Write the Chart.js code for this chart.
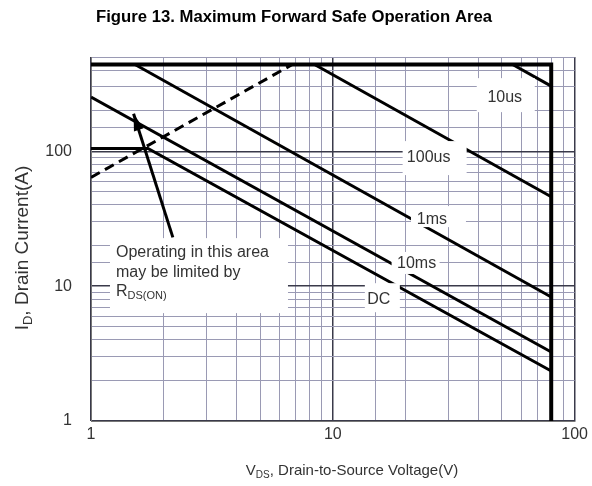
<!DOCTYPE html>
<html>
<head>
<meta charset="utf-8">
<script src="https://cdn.jsdelivr.net/npm/chart.js@4"></script>
<style>
  body { margin: 0; background: #fff; }
</style>
</head>
<body>
<canvas id="soa" width="592" height="486"></canvas>
<script>
// SOA boundaries, V_DS (V) against I_D (A)
const limitV = [1, 80, 80]
const limitI = [440, 440, 1]
const rdsV = [1, 6.8]
const rdsI = [64, 440]
const us10V = [55.4, 80]
const us10I = [440, 304]
const us100V = [8.4, 80]
const us100I = [440, 46]
const ms1V = [1.52, 80]
const ms1I = [440, 8.3]
const ms10V = [1, 80]
const ms10I = [252, 3.25]
const dcV = [1, 1.72, 80]
const dcI = [105, 105, 2.35]
const arrowV = [2.18, 1.5]
const arrowI = [23, 190]
const xLabels = [1, 10, 100]
const yLabels = [1, 10, 100]

const pts = (xs, ys) => xs.map((x, i) => ({ x, y: ys[i] }))

const line = (data, width, extra) => Object.assign({
  data,
  showLine: true,
  borderColor: '#000',
  borderWidth: width,
  pointRadius: 0,
  fill: false
}, extra || {})

const isDecade = v => Math.abs(Math.log10(v) - Math.round(Math.log10(v))) < 1e-6

// white-backed curve labels, text centre given in data units
const curveLabels = [
  { text: '10us', v: 51.4, i: 252, box: [-28, -19, 30, 15] },
  { text: '100us', v: 24.9, i: 89, box: [-26, -17, 38, 17] },
  { text: '1ms', v: 25.7, i: 31.4, box: [-21, -13, 34, 8] },
  { text: '10ms', v: 22.2, i: 14.6, box: [-25, -12, 23, 10] },
  { text: 'DC', v: 15.5, i: 8.0, box: [-14, -16, 21, 13] }
]

function subText(ctx, parts, x, y, size, align) {
  // parts: [text, isSub]
  const widths = parts.map(p => {
    ctx.font = (p[1] ? Math.round(size * 0.68) : size) + 'px "Liberation Sans", Arial, sans-serif'
    return ctx.measureText(p[0]).width
  })
  const total = widths.reduce((a, b) => a + b, 0)
  let cx = align === 'center' ? x - total / 2 : x
  ctx.textAlign = 'left'
  ctx.textBaseline = 'middle'
  parts.forEach((p, k) => {
    ctx.font = (p[1] ? Math.round(size * 0.68) : size) + 'px "Liberation Sans", Arial, sans-serif'
    ctx.fillText(p[0], cx, p[1] ? y + size * 0.3 : y)
    cx += widths[k]
  })
}

const decor = {
  id: 'decor',
  afterDatasetsDraw(chart) {
    const { ctx, scales: { x, y } } = chart
    ctx.save()

    // arrow head on the R_DS(on) pointer
    const arrow = chart.getDatasetMeta(7).data
    const tail = arrow[0], tip = arrow[1]
    const ang = Math.atan2(tip.y - tail.y, tip.x - tail.x)
    ctx.fillStyle = '#000'
    ctx.beginPath()
    ctx.moveTo(tip.x, tip.y)
    ctx.lineTo(tip.x - 17 * Math.cos(ang) + 5 * Math.sin(ang), tip.y - 17 * Math.sin(ang) - 5 * Math.cos(ang))
    ctx.lineTo(tip.x - 17 * Math.cos(ang) - 5 * Math.sin(ang), tip.y - 17 * Math.sin(ang) + 5 * Math.cos(ang))
    ctx.closePath()
    ctx.fill()

    ctx.font = '16px "Liberation Sans", Arial, sans-serif'
    curveLabels.forEach(l => {
      const px = x.getPixelForValue(l.v)
      const py = y.getPixelForValue(l.i)
      ctx.fillStyle = '#fff'
      ctx.fillRect(px + l.box[0], py + l.box[1], l.box[2] - l.box[0], l.box[3] - l.box[1])
      ctx.fillStyle = '#333'
      ctx.textAlign = 'center'
      ctx.textBaseline = 'middle'
      ctx.fillText(l.text, px, py)
    })

    // note box
    const bx = x.getPixelForValue(1.198)
    const by = y.getPixelForValue(22.7)
    ctx.fillStyle = '#fff'
    ctx.fillRect(bx, by, 178, 75)
    ctx.fillStyle = '#333'
    ctx.textAlign = 'left'
    ctx.textBaseline = 'middle'
    ctx.font = '16px "Liberation Sans", Arial, sans-serif'
    ctx.fillText('Operating in this area', bx + 6, by + 14)
    ctx.fillText('may be limited by', bx + 6, by + 34)
    subText(ctx, [['R', false], ['DS(ON)', true]], bx + 6, by + 53, 16, 'left')
    ctx.restore()
  },
  afterDraw(chart) {
    const { ctx } = chart
    ctx.save()
    ctx.fillStyle = '#000'
    ctx.textAlign = 'center'
    ctx.textBaseline = 'middle'
    ctx.font = 'bold 16.7px "Liberation Sans", Arial, sans-serif'
    ctx.fillText('Figure 13. Maximum Forward Safe Operation Area', 294, 17)

    ctx.fillStyle = '#333'
    subText(ctx, [['V', false], ['DS', true], [', Drain-to-Source Voltage(V)', false]], 352, 471, 15, 'center')

    ctx.translate(23, 248)
    ctx.rotate(-Math.PI / 2)
    subText(ctx, [['I', false], ['D', true], [', Drain Current(A)', false]], 0, 0, 19, 'center')
    ctx.restore()
  }
}

const gridStyle = {
  color: c => isDecade(c.tick.value) ? '#3a3a4a' : '#9a9ab4',
  lineWidth: c => isDecade(c.tick.value) ? 1.5 : 1,
  drawTicks: false
}

new Chart(document.getElementById('soa'), {
  type: 'scatter',
  data: {
    datasets: [
      line(pts(limitV, limitI), 4),
      line(pts(rdsV, rdsI), 3, { borderDash: [10, 6] }),
      line(pts(us10V, us10I), 3),
      line(pts(us100V, us100I), 3),
      line(pts(ms1V, ms1I), 3),
      line(pts(ms10V, ms10I), 3),
      line(pts(dcV, dcI), 3),
      line(pts(arrowV, arrowI), 3)
    ]
  },
  options: {
    responsive: false,
    animation: false,
    layout: { padding: { top: 57, right: 17, left: 0, bottom: 0 } },
    plugins: {
      legend: { display: false },
      tooltip: { enabled: false }
    },
    scales: {
      x: {
        type: 'logarithmic',
        min: 1,
        max: 100,
        grid: gridStyle,
        border: { color: '#777', width: 1 },
        ticks: {
          color: '#333',
          font: { size: 16, family: '"Liberation Sans", Arial, sans-serif' },
          padding: 4,
          autoSkip: false,
          maxRotation: 0,
          callback: v => xLabels.includes(v) ? String(v) : ''
        },
        afterFit: s => { s.height = 65 }
      },
      y: {
        type: 'logarithmic',
        min: 1,
        max: 500,
        grid: gridStyle,
        border: { color: '#777', width: 1 },
        ticks: {
          color: '#333',
          font: { size: 16, family: '"Liberation Sans", Arial, sans-serif' },
          padding: 19,
          autoSkip: false,
          callback: v => yLabels.includes(v) ? String(v) : ''
        },
        afterFit: s => { s.width = 91 }
      }
    }
  },
  plugins: [decor]
})
</script>
</body>
</html>
